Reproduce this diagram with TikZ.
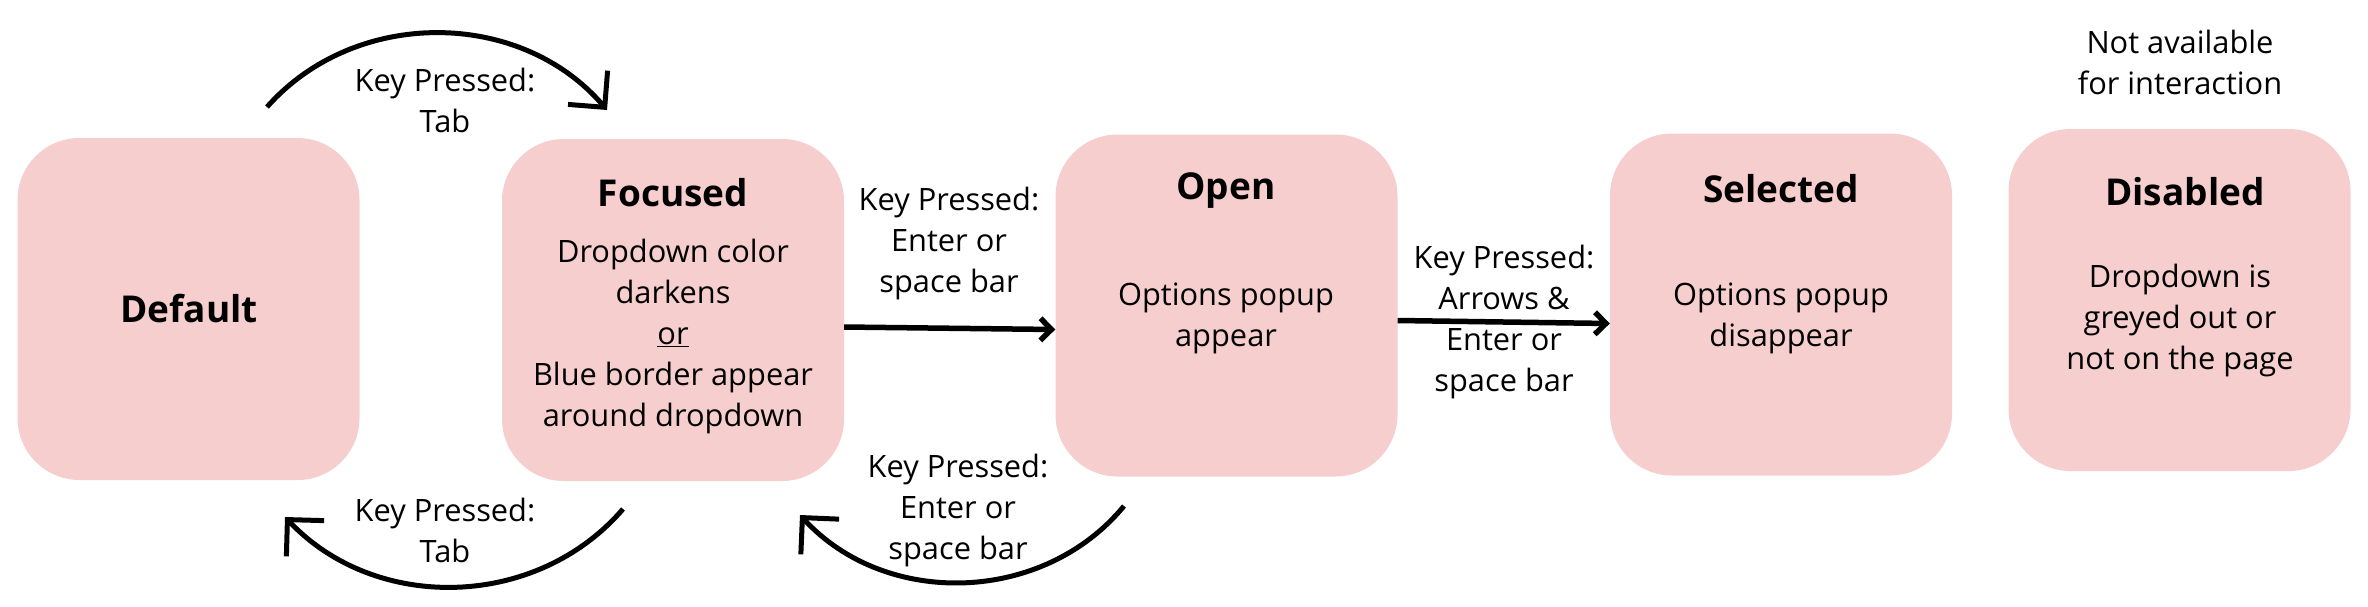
\documentclass[tikz,border=0pt]{standalone}
\usepackage{fontspec}
\setmainfont{Open Sans}
\usetikzlibrary{arrows.meta,calc}
\definecolor{boxpink}{RGB}{247,206,206}
\begin{document}
\begin{tikzpicture}[x=1pt,y=-1pt,
  state/.style={fill=boxpink, rounded corners=62pt, minimum width=342pt, minimum height=342pt, inner sep=0pt},
  ttl/.style={font=\fontsize{37}{44}\selectfont\bfseries, inner sep=0pt},
  body/.style={font=\fontsize{30.8}{41}\selectfont, align=center, inner sep=0pt},
  arcarrow/.style={line width=5pt, -{Straight Barb[length=26pt,width=52pt]}},
  strarrow/.style={line width=5.5pt, -{Straight Barb[length=11pt,width=22pt]}}]
\useasboundingbox (0,0) rectangle (2368,606);
% states
\node[state] (default)  at (188.5,309) {};
\node[state] (focused)  at (673,310) {};
\node[state] (open)     at (1226.5,305.5) {};
\node[state] (selected) at (1781,304.5) {};
\node[state] (disabled) at (2179.5,300) {};
% titles
\node[ttl] (tdefault)  at (189,309) {Default};
\node[ttl] (tfocused)  at (673,193) {Focused};
\node[ttl] (topen)     at (1226,191) {Open};
\node[ttl] (tselected) at (1781,189) {Selected};
\node[ttl] (tdisabled) at (2185,192) {Disabled};
% bodies
\node[body] (bfocused)  at (673,336) {Dropdown color\\darkens\\\underline{or}\\Blue border appear\\around dropdown};
\node[body] (bopen)     at (1226,318.5) {Options popup\\appear};
\node[body] (bselected) at (1781,318) {Options popup\\disappear};
\node[body] (bdisabled) at (2180,320) {Dropdown is\\greyed out or\\not on the page};
\node[body] (note)      at (2180,62) {Not available\\for interaction};
% labels
\node[body] (ltab1)   at (445,100) {Key Pressed:\\Tab};
\node[body] (ltab2)   at (445,530.5) {Key Pressed:\\Tab};
\node[body] (lenter1) at (949,243) {Key Pressed:\\Enter or\\space bar};
\node[body] (lenter2) at (958,510) {Key Pressed:\\Enter or\\space bar};
\node[body] (larrows) at (1504,322) {Key Pressed:\\Arrows \&\\Enter or\\space bar};
% arc end points
\coordinate (a1s) at (267,107);
\coordinate (a1e) at (607,110);
\coordinate (a2s) at (623,509);
\coordinate (a2e) at (285,517);
\coordinate (a3s) at (1124,506);
\coordinate (a3e) at (800,515);
% connectors
\draw[arcarrow] (a1s) to[bend left=49] (a1e);
\draw[arcarrow] (a2s) to[bend left=48] (a2e);
\draw[arcarrow] (a3s) to[bend left=49] (a3e);
\draw[strarrow] ($(focused.east)+(0,17)$) -- ($(open.west)+(0,24)$);
\draw[strarrow] ($(open.east)+(0,15)$) -- ($(selected.west)+(0,19)$);
\end{tikzpicture}
\end{document}
